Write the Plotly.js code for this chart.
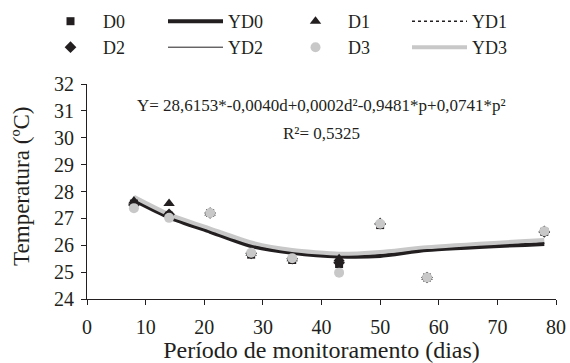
<!DOCTYPE html>
<html><head><meta charset="utf-8">
<script src="https://cdn.plot.ly/plotly-3.0.1.min.js"></script>
<style>html,body{margin:0;padding:0;background:#fff}#c{width:570px;height:363px}</style>
</head><body><div id="c"></div>
<script>
const days = [8, 14, 21, 28, 35, 43, 50, 58, 78];
const D0 = [27.55, 27.1, 27.2, 25.65, 25.45, 25.3, 26.75, 24.8, 26.5];
const D1 = [27.65, 27.55, 27.2, 25.7, 25.5, 25.5, 26.85, 24.8, 26.55];
const D2 = [27.5, 27.15, 27.2, 25.7, 25.5, 25.35, 26.8, 24.8, 26.5];
const D3 = [27.38, 27.02, 27.2, 25.72, 25.52, 24.98, 26.8, 24.8, 26.52];
const YD0 = [27.68, 27.04, 26.5, 25.97, 25.72, 25.58, 25.6, 25.82, 26.05];
const YD1 = [27.71, 27.07, 26.53, 26.0, 25.74, 25.6, 25.63, 25.85, 26.08];
const YD2 = [27.69, 27.05, 26.51, 25.98, 25.73, 25.59, 25.61, 25.83, 26.06];
const YD3 = [27.8, 27.15, 26.62, 26.1, 25.82, 25.68, 25.75, 25.93, 26.2];
const xTicks = [0, 10, 20, 30, 40, 50, 60, 70, 80];
const yTicks = [24, 25, 26, 27, 28, 29, 30, 31, 32];
const xTitle = 'Período de monitoramento (dias)';
const yTitle = 'Temperatura (ºC)';

const BLK = '#231f20', GRY = '#c8c8c8';
const F = '"Liberation Serif", "Times New Roman", serif';
const sp = {shape: 'spline', smoothing: 0.6};

const traces = [
  {x: days, y: D0, name: 'D0', legend: 'legend', mode: 'markers', type: 'scatter', marker: {symbol: 'square', size: 8, color: BLK}},
  {x: days, y: YD0, name: 'YD0', legend: 'legend2', mode: 'lines', type: 'scatter', line: Object.assign({color: BLK, width: 4}, sp)},
  {x: days, y: D1, name: 'D1', legend: 'legend3', mode: 'markers', type: 'scatter', marker: {symbol: 'triangle-up', size: 10, color: BLK}},
  {x: days, y: YD1, name: 'YD1', legend: 'legend4', mode: 'lines', type: 'scatter', line: Object.assign({color: BLK, width: 1.5, dash: 'dot'}, sp)},
  {x: days, y: D2, name: 'D2', legend: 'legend5', mode: 'markers', type: 'scatter', marker: {symbol: 'diamond', size: 9, color: BLK}},
  {x: days, y: YD2, name: 'YD2', legend: 'legend6', mode: 'lines', type: 'scatter', line: Object.assign({color: BLK, width: 1}, sp)},
  {x: days, y: D3, name: 'D3', legend: 'legend7', mode: 'markers', type: 'scatter', marker: {symbol: 'circle', size: 10, color: GRY}},
  {x: days, y: YD3, name: 'YD3', legend: 'legend8', mode: 'lines', type: 'scatter', line: Object.assign({color: GRY, width: 4}, sp)}
];
const order = [1, 3, 5, 7, 0, 2, 4, 6];
const data = order.map(i => traces[i]);

const legBase = {orientation: 'v', xref: 'container', yref: 'container', yanchor: 'top', xanchor: 'left',
  itemwidth: 55, font: {family: F, size: 18, color: BLK}, bgcolor: 'rgba(0,0,0,0)', borderwidth: 0};
const colX = [38, 163, 283, 407];
const rowY = [3, 29];

const layout = {
  width: 570, height: 363,
  margin: {l: 87, r: 14, t: 84, b: 64, autoexpand: false},
  paper_bgcolor: '#fff', plot_bgcolor: '#fff',
  font: {family: F, color: BLK, size: 17},
  showlegend: true,
  xaxis: {range: [0, 80], tickvals: xTicks, ticks: 'outside', ticklen: 5, tickcolor: BLK,
          showline: true, linecolor: BLK, linewidth: 1, showgrid: false, zeroline: false,
          ticklabelstandoff: 5,
          tickfont: {family: F, size: 20, color: BLK},
          title: {text: xTitle, font: {family: F, size: 24, color: BLK}, standoff: 8}},
  yaxis: {range: [24, 32], tickvals: yTicks, ticks: 'outside', ticklen: 5, tickcolor: BLK,
          showline: true, linecolor: BLK, linewidth: 1, showgrid: false, zeroline: false,
          ticklabelstandoff: 3,
          tickfont: {family: F, size: 20, color: BLK}},
  annotations: [
    {xref: 'paper', yref: 'paper', x: -0.1386, y: 0.526, showarrow: false, xanchor: 'center', yanchor: 'middle',
     textangle: -90, text: yTitle, font: {family: F, size: 23, color: BLK}},
    {xref: 'paper', yref: 'paper', x: 0.5, y: 0.901, showarrow: false, xanchor: 'center', yanchor: 'middle',
     text: 'Y= 28,6153*-0,0040d+0,0002d²-0,9481*p+0,0741*p²', font: {family: F, size: 17, color: BLK}},
    {xref: 'paper', yref: 'paper', x: 0.5, y: 0.77, showarrow: false, xanchor: 'center', yanchor: 'middle',
     text: 'R²= 0,5325', font: {family: F, size: 17, color: BLK}}
  ]
};
['legend', 'legend2', 'legend3', 'legend4', 'legend5', 'legend6', 'legend7', 'legend8'].forEach((k, i) => {
  layout[k] = Object.assign({x: colX[i % 4] / 570, y: 1 - rowY[Math.floor(i / 4)] / 363}, legBase);
});
Plotly.newPlot('c', data, layout, {displayModeBar: false, staticPlot: true});
</script></body></html>
